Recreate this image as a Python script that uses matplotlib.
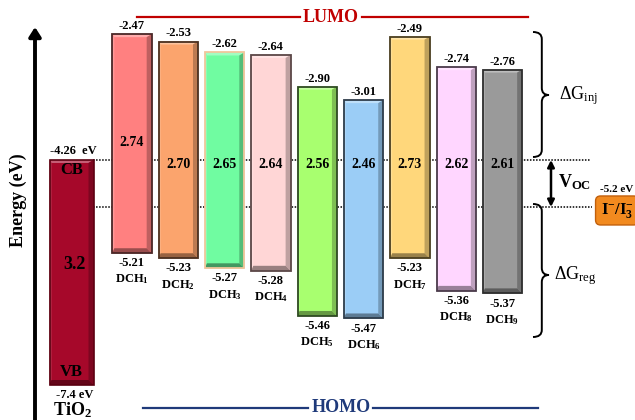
import numpy as np
import matplotlib
matplotlib.use("Agg")
import matplotlib.pyplot as plt
import matplotlib.colors as mcolors
from matplotlib.patches import Polygon, PathPatch
from matplotlib.path import Path
from matplotlib import transforms

# ---------------- data ----------------
dye_ids = ["1", "2", "3", "4", "5", "6", "7", "8", "9"]
lumo = [-2.47, -2.53, -2.62, -2.64, -2.90, -3.01, -2.49, -2.74, -2.76]
homo = [-5.21, -5.23, -5.27, -5.28, -5.46, -5.47, -5.23, -5.36, -5.37]
gap = [2.74, 2.70, 2.65, 2.64, 2.56, 2.46, 2.73, 2.62, 2.61]
tio2_cb = -4.26
tio2_vb = -7.4
tio2_gap = 3.2
redox = -5.2

# ---------------- style ----------------
dye_colors = ["#FF8080", "#FBA46D", "#70FCA1", "#FFD6D6", "#A8FF6F",
              "#9BCDF6", "#FFD77B", "#FFD6FF", "#9A9A9A"]
dye_edges = ["#4A2626", "#4A3020", "#F2C69C", "#5A4646", "#2E4A22",
             "#2E3C4A", "#4A3E20", "#4A3A4A", "#2E2E2E"]
tio2_color = "#A6082A"
tio2_edge = "#5A0010"
gap_label_e = [-3.88, -4.34, -4.34, -4.34, -4.34, -4.34, -4.34, -4.34, -4.34]

plt.rcParams.update({
    "font.family": ["Liberation Serif", "DejaVu Serif"],
    "mathtext.fontset": "custom",
    "mathtext.rm": "Liberation Serif",
    "mathtext.bf": "Liberation Serif:bold",
    "mathtext.it": "Liberation Serif:italic",
})

# schematic (not-to-scale) energy axis: piecewise linear
E_KNOTS = np.array([-8.6, -7.4, -5.5, -5.205, -5.2, -4.26, -3.05, -2.1])
PX_KNOTS = np.array([422, 385, 326, 252, 207, 160, 105, -11], dtype=float)


def fwd(e):
    return -np.interp(e, E_KNOTS, PX_KNOTS)


def inv(v):
    return np.interp(-np.asarray(v), PX_KNOTS[::-1], E_KNOTS[::-1])


fig = plt.figure(figsize=(6.35, 4.2), dpi=100)
ax = fig.add_axes([0, 0, 1, 1])
ax.set_axis_off()
ax.set_yscale("function", functions=(fwd, inv))
ax.set_ylim(float(inv(-420)), float(inv(0)))
ax.set_xlim(-1.850, 11.861)

ov = fig.add_axes([0, 0, 1, 1])
ov.set_axis_off()
ov.set_xlim(0, 635)
ov.set_ylim(420, 0)

blend = transforms.blended_transform_factory(ov.transData, ax.transData)

xs = np.arange(1, len(dye_ids) + 1)
x_tio2 = -0.306
W = 0.85
W_T = 0.95


def shade(c, f):
    r, g, b = mcolors.to_rgb(c)
    return (r * f, g * f, b * f)


def tint(c, f):
    r, g, b = mcolors.to_rgb(c)
    return (r + (1 - r) * f, g + (1 - g) * f, b + (1 - b) * f)


def bevel(x, w, e0, e1, face, bl=2, bt=3, br=5, bb=5):
    T = ax.transData
    X0, Y0 = T.transform((x - w / 2, e0))
    X1, Y1 = T.transform((x + w / 2, e1))
    iX0, iX1, iY0, iY1 = X0 + bl, X1 - br, Y0 + bb, Y1 - bt
    polys = [
        ([(X0, Y1), (X1, Y1), (iX1, iY1), (iX0, iY1)], tint(face, 0.35)),
        ([(X0, Y1), (iX0, iY1), (iX0, iY0), (X0, Y0)], tint(face, 0.2)),
        ([(X1, Y1), (X1, Y0), (iX1, iY0), (iX1, iY1)], shade(face, 0.75)),
        ([(X0, Y0), (X1, Y0), (iX1, iY0), (iX0, iY0)], shade(face, 0.6)),
    ]
    inv_t = T.inverted()
    for pts, col in polys:
        d = inv_t.transform(np.array(pts))
        ax.add_patch(Polygon(d, closed=True, facecolor=col, edgecolor="none", zorder=3.2))


# dotted reference lines (CB of TiO2 and redox level)
ax.plot([93, 590], [tio2_cb, tio2_cb], transform=blend, ls=(0, (1, 1)), color="black", lw=1.1, zorder=1)
ax.plot([93, 592], [redox, redox], transform=blend, ls=(0, (1, 1)), color="black", lw=1.1, zorder=1)

# TiO2 bar
ax.bar([x_tio2], [tio2_cb - tio2_vb], bottom=[tio2_vb], width=W_T, color=tio2_color, edgecolor="none", zorder=3)
bevel(x_tio2, W_T, tio2_vb, tio2_cb, tio2_color)
ax.bar([x_tio2], [tio2_cb - tio2_vb], bottom=[tio2_vb], width=W_T, fill=False, edgecolor=tio2_edge, lw=1.2, zorder=3.4)

# dye bars
hts = np.array(lumo) - np.array(homo)
ax.bar(xs, hts, bottom=homo, width=W, color=dye_colors, edgecolor="none", zorder=3)
for x, lo, hi, c in zip(xs, homo, lumo, dye_colors):
    bevel(x, W, lo, hi, c)
ax.bar(xs, hts, bottom=homo, width=W, fill=False, edgecolor=dye_edges, lw=1.3, zorder=3.4)

bold = dict(fontweight="bold", color="black")
for x, lo, hi, g, ge, d in zip(xs, homo, lumo, gap, gap_label_e, dye_ids):
    ax.annotate(f"{hi:.2f}", xy=(x, hi), xytext=(0, 1.5), textcoords="offset points",
                ha="center", va="bottom", fontsize=9, zorder=5, **bold)
    ax.annotate(f"{lo:.2f}", xy=(x, lo), xytext=(0, -3), textcoords="offset points",
                ha="center", va="top", fontsize=9, zorder=5, **bold)
    ax.annotate("DCH$_{\\mathbf{" + d + "}}$", xy=(x, lo), xytext=(0, -14), textcoords="offset points",
                ha="center", va="top", fontsize=9, zorder=5, **bold)
    ax.text(x, ge, f"{g:.2f}", ha="center", va="center", fontsize=10, zorder=5, **bold)

# TiO2 labels
ax.annotate(f"{tio2_cb:.2f}  eV", xy=(x_tio2, tio2_cb), xytext=(1, 2), textcoords="offset points",
            ha="center", va="bottom", fontsize=9, zorder=5, **bold)
ax.annotate("CB", xy=(x_tio2, tio2_cb), xytext=(0, -7.5), textcoords="offset points",
            ha="center", va="center", fontsize=12, zorder=5, **bold)
ax.annotate(f"{tio2_gap:.1f}", xy=(x_tio2, tio2_cb), xytext=(2, -75), textcoords="offset points",
            ha="center", va="center", fontsize=13, zorder=5, **bold)
ax.annotate("VB", xy=(x_tio2, tio2_vb), xytext=(0, 9), textcoords="offset points",
            ha="center", va="center", fontsize=12, zorder=5, **bold)
ax.annotate(f"{tio2_vb:.1f} eV", xy=(x_tio2, tio2_vb), xytext=(2, -3), textcoords="offset points",
            ha="center", va="top", fontsize=9, zorder=5, **bold)
ax.annotate("TiO$_{\\mathbf{2}}$", xy=(x_tio2, tio2_vb), xytext=(1, -11), textcoords="offset points",
            ha="center", va="top", fontsize=13, zorder=5, **bold)

# V_OC arrow and redox couple
ax.annotate("", xy=(551, redox), xytext=(551, tio2_cb), xycoords=blend, textcoords=blend,
            arrowprops=dict(arrowstyle="<|-|>,head_length=0.5,head_width=0.25", lw=1.8, color="black",
                            mutation_scale=8, shrinkA=0, shrinkB=0), zorder=5)
ov.text(558, 182, "V$_{\\mathbf{OC}}$", ha="left", va="center", fontsize=13, **bold)
ax.annotate(f"{redox:.1f} eV", xy=(617, redox), xycoords=blend, xytext=(0, 9), textcoords="offset points",
            ha="center", va="bottom", fontsize=8, **bold)
ax.annotate("I$^{\\mathbf{-}}$/I$_{\\mathbf{3}}^{\\mathbf{-}}$", xy=(617, redox), xycoords=blend,
            xytext=(0, -2.5), textcoords="offset points", ha="center", va="center", fontsize=12,
            bbox=dict(boxstyle="round,pad=0.3,rounding_size=0.3", fc="#F28A1F", ec="#C2600C", lw=1),
            zorder=6, **bold)

# energy arrow
ov.annotate("", xy=(35, 27), xytext=(35, 425),
            arrowprops=dict(arrowstyle="-|>,head_length=0.55,head_width=0.35", lw=2.8, color="black",
                            mutation_scale=10, shrinkA=0, shrinkB=0))
ov.text(18, 200, "Energy (eV)", rotation=90, ha="center", va="center", fontsize=13, **bold)

# LUMO / HOMO guides
red = "#C00000"
navy = "#1F3A7A"
ov.plot([137, 300], [17, 17], color=red, lw=1.6)
ov.plot([362, 528], [17, 17], color=red, lw=1.6)
ov.text(331, 17, "LUMO", ha="center", va="center", fontsize=13, color=red, fontweight="bold")
ov.plot([143, 308], [408, 408], color=navy, lw=1.6)
ov.plot([373, 538], [408, 408], color=navy, lw=1.6)
ov.text(341, 408, "HOMO", ha="center", va="center", fontsize=13, color=navy, fontweight="bold")


def brace(x0, ytop, ybot, ytip, w=16, r=7):
    xm = x0 + w * 0.55
    xt = x0 + w
    verts = [(x0, ytop), (xm, ytop), (xm, ytop + r),
             (xm, ytip - r),
             (xm, ytip), (xt, ytip),
             (xm, ytip), (xm, ytip + r),
             (xm, ybot - r),
             (xm, ybot), (x0, ybot)]
    codes = [Path.MOVETO, Path.CURVE3, Path.CURVE3,
             Path.LINETO,
             Path.CURVE3, Path.CURVE3,
             Path.CURVE3, Path.CURVE3,
             Path.LINETO,
             Path.CURVE3, Path.CURVE3]
    ov.add_patch(PathPatch(Path(verts, codes), fill=False, lw=1.4, edgecolor="black"))


brace(533, 32, 157, 95)
brace(533, 204, 337, 275)
ov.text(559, 96, "ΔG$_{\\mathrm{inj}}$", ha="left", va="center", fontsize=13)
ov.text(554, 276, "ΔG$_{\\mathrm{reg}}$", ha="left", va="center", fontsize=13)

fig.savefig("out.png", dpi=100)
